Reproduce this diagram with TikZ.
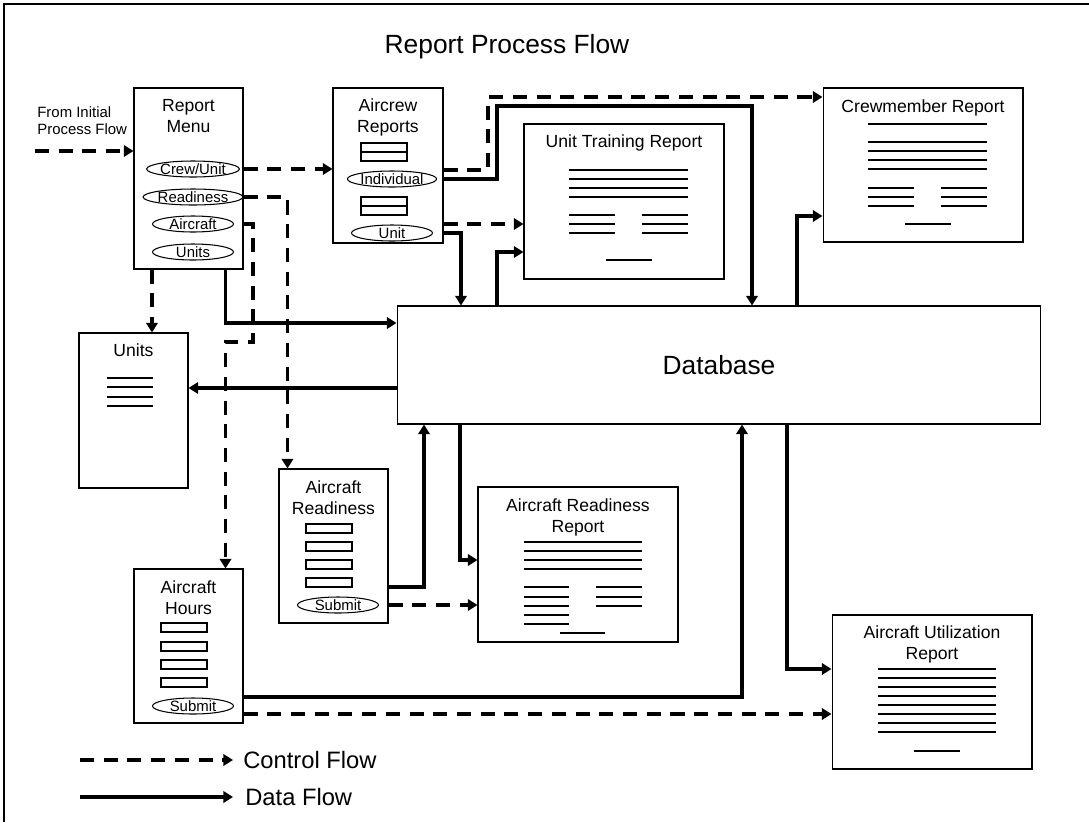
\documentclass[tikz,border=0pt]{standalone}
\usepackage{fontspec}
\setmainfont{Liberation Sans}
\usetikzlibrary{arrows.meta,positioning,shapes.geometric}
\tikzset{
	box/.style={draw, line width=0.6pt, inner sep=0pt},
	boxtitle/.style={inner sep=0pt, align=center, font=\fontsize{10}{12}\selectfont},
	btn/.style={draw, ellipse, line width=0.6pt, inner sep=0pt, minimum width=1.62cm, minimum height=0.32cm, font=\fontsize{8.5}{9}\selectfont},
	txtline/.style={line width=0.6pt},
	ctrl/.style={line width=2.2pt, dash pattern=on 8pt off 5.5pt, -{Triangle[length=5.5pt,width=6.5pt]}},
	data/.style={line width=2.2pt, -{Triangle[length=5.5pt,width=6.5pt]}},
	legend/.style={inner sep=0pt, anchor=west, font=\fontsize{13.5}{16}\selectfont}
}

\begin{document}
\begin{tikzpicture}[x=0.02cm,y=-0.02cm]
			\useasboundingbox (0,0) rectangle (1089,822);
			% Frame and title
			\draw[line width=1.4pt] (4,822) -- (4,4) -- (1089,4);
			\node[font=\fontsize{15}{18}\selectfont] (title) at (507,47) {Report Process Flow};

			% Report menu
			\node[box, minimum width=2.18cm, minimum height=3.62cm] (menu) at (188.5,178.5) {};
			\node[boxtitle, below=0.23cm of menu.north] {Report\\Menu};
			\node[btn] (crewbtn) at (193,169) {Crew/Unit};
			\node[btn] (readybtn) at (193,197) {Readiness};
			\node[btn] (acbtn) at (193,224) {Aircraft};
			\node[btn] (unitsbtn) at (193,252) {Units};
			\coordinate (init) at (35,151);
			\node[inner sep=0pt, anchor=west, align=left, font=\fontsize{8.5}{9.8}\selectfont] (inittxt) at (37,121) {From Initial\\Process Flow};

			% Aircrew reports
			\node[box, minimum width=2.2cm, minimum height=3.1cm] (aircrew) at (388,165.5) {};
			\node[boxtitle, below=0.22cm of aircrew.north] {Aircrew\\Reports};
			\foreach \y in {143,197} {
				\draw[line width=0.6pt] (361,\y) rectangle (407,\y+18);
				\draw[line width=0.6pt] (361,\y+9) -- (407,\y+9);
			}
			\node[btn] (indbtn) at (392,179) {Individual};
			\node[btn] (unitbtn) at (392,233) {Unit};

			% Report pages
			\node[box, minimum width=4cm, minimum height=3.1cm] (utr) at (624,201.5) {};
			\node[boxtitle, below=0.22cm of utr.north] {Unit Training Report};
			\foreach \y in {170,179,188,197} \draw[txtline] (569,\y) -- (688,\y);
			\foreach \y in {215,224,233} {
				\draw[txtline] (569,\y) -- (615,\y);
				\draw[txtline] (642,\y) -- (688,\y);
			}
			\draw[txtline] (606,260) -- (652,260);

			\node[box, minimum width=4cm, minimum height=3.08cm] (crew) at (923,165) {};
			\node[boxtitle, below=0.23cm of crew.north] {Crewmember Report};
			\foreach \y in {124,142,151,160,169} \draw[txtline] (868,\y) -- (987,\y);
			\foreach \y in {188,197,206} {
				\draw[txtline] (868,\y) -- (914,\y);
				\draw[txtline] (941,\y) -- (987,\y);
			}
			\draw[txtline] (905,224) -- (951,224);

			\node[box, minimum width=4cm, minimum height=3.1cm] (arr) at (578,564.5) {};
			\node[boxtitle, below=0.23cm of arr.north] {Aircraft Readiness\\Report};
			\foreach \y in {542,551,560,569} \draw[txtline] (524,\y) -- (642,\y);
			\foreach \y in {587,597,606,615,624} \draw[txtline] (524,\y) -- (569,\y);
			\foreach \y in {587,597,606} \draw[txtline] (596,\y) -- (642,\y);
			\draw[txtline] (560,633) -- (605,633);

			\node[box, minimum width=4cm, minimum height=3.08cm] (util) at (932,692) {};
			\node[boxtitle, below=0.22cm of util.north] {Aircraft Utilization\\Report};
			\foreach \y in {669,678,687,696,705,714,723,732} \draw[txtline] (878,\y) -- (996,\y);
			\draw[txtline] (914,751) -- (960,751);

			% Units and database
			\node[box, minimum width=2.18cm, minimum height=3.1cm] (units) at (133.5,410.5) {};
			\node[boxtitle, below=0.22cm of units.north] {Units};
			\foreach \y in {378,387,397,406} \draw[txtline] (107,\y) -- (153,\y);
			\node[box, minimum width=12.88cm, minimum height=2.36cm, font=\fontsize{15}{18}\selectfont] (db) at (719,365) {Database};

			% Input forms
			\node[box, minimum width=2.18cm, minimum height=3.08cm] (acready) at (333.5,546) {};
			\node[boxtitle, below=0.23cm of acready.north] {Aircraft\\Readiness};
			\foreach \y in {524,542,560} \draw[line width=0.6pt] (306,\y) rectangle (352,\y+9);
			\draw[line width=1pt] (306,578) rectangle (352,587);
			\node[btn] (rsubmit) at (338,605) {Submit};

			\node[box, minimum width=2.18cm, minimum height=3.08cm] (hours) at (188.5,646) {};
			\node[boxtitle, below=0.23cm of hours.north] {Aircraft\\Hours};
			\foreach \y in {623,642,660} \draw[line width=0.6pt] (161,\y) rectangle (207,\y+9);
			\draw[line width=1pt] (161,678) rectangle (207,687);
			\node[btn] (hsubmit) at (193,706) {Submit};

			% Control flow
			\coordinate (u0) at ([xshift=0.37cm]menu.south west);
			\draw[ctrl] (init) -- (menu.west |- init);
			\draw[ctrl] (menu.east |- crewbtn) -- (aircrew.west |- crewbtn);
			\draw[ctrl] (menu.east |- readybtn) -| ([xshift=0.18cm]acready.north west);
			\draw[ctrl] (menu.east |- acbtn) -| (253,342) -| ([xshift=-0.36cm]hours.north east);
			\draw[ctrl] (u0) -- (u0 |- units.north);
			\draw[ctrl] (aircrew.east |- 0,170) -| (488,97) -- (crew.west |- 0,97);
			\draw[ctrl] (aircrew.east |- 0,224) -- (utr.west |- 0,224);
			\draw[ctrl] (acready.east |- rsubmit) -- (arr.west |- rsubmit);
			\draw[ctrl] (hours.east |- 0,714) -- (util.west |- 0,714);

			% Data flow
			\coordinate (u1) at ([xshift=-0.36cm]menu.south east);
			\draw[data] (u1) |- (db.west |- 0,323);
			\draw[data] (db.west |- 0,388) -- (units.east |- 0,388);
			\draw[data] (aircrew.east |- indbtn) -| (497,106) -| (db.north -| 752,0);
			\draw[data] (aircrew.east |- unitbtn) -| (db.north -| 461,0);
			\draw[data] (db.north -| 497,0) |- (utr.west |- 0,252);
			\draw[data] (db.north -| 797,0) |- (crew.west |- 0,216);
			\draw[data] (acready.east |- 0,587) -| (db.south -| 424,0);
			\draw[data] (db.south -| 460,0) |- (arr.west |- 0,560);
			\draw[data] (hours.east |- 0,697) -| (db.south -| 742,0);
			\draw[data] (db.south -| 787,0) |- (util.west |- 0,669);

			% Legend
			\coordinate (cfstart) at (80,760);
			\coordinate (dfstart) at (80,797);
			\node[legend] (cflabel) at (243,760) {Control Flow};
			\node[legend] (dflabel) at (245,797) {Data Flow};
			\draw[ctrl] (cfstart) -- ([xshift=-0.2cm]cflabel.west);
			\draw[data] (dfstart) -- ([xshift=-0.24cm]dflabel.west);
		\end{tikzpicture}
\end{document}
